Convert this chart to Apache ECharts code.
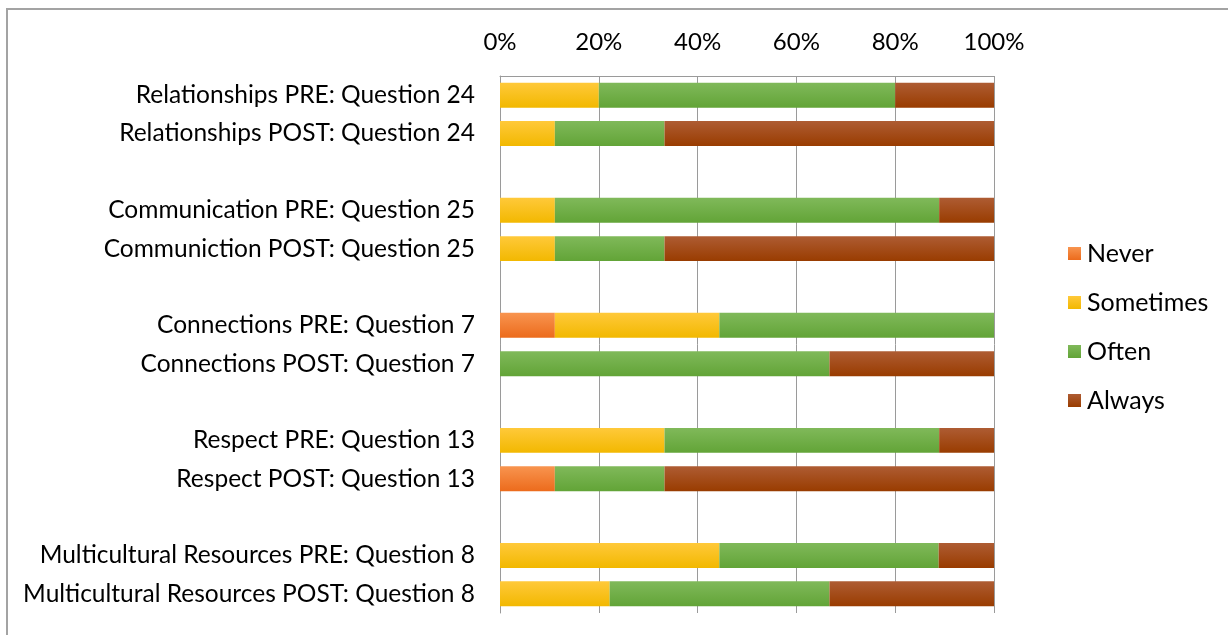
<!DOCTYPE html>
<html>
<head>
<meta charset="utf-8">
<title>Survey responses PRE / POST</title>
<script src="https://cdn.jsdelivr.net/npm/echarts@6/dist/echarts.min.js"></script>
<style>
  html, body { margin: 0; padding: 0; background: #ffffff; }
  #chart { width: 1228px; height: 635px; }
</style>
</head>
<body>
<div id="chart"></div>
<script>
// Question rows, top to bottom; empty strings are spacer rows between question groups.
const categories = [
  'Relationships PRE: Question 24',
  'Relationships POST: Question 24',
  '',
  'Communication PRE: Question 25',
  'Communiction POST: Question 25',
  '',
  'Connections PRE: Question 7',
  'Connections POST: Question 7',
  '',
  'Respect PRE: Question 13',
  'Respect POST: Question 13',
  '',
  'Multicultural Resources PRE: Question 8',
  'Multicultural Resources POST: Question 8'
];

// Share of responses (%) for each answer, one value per row.
const never     = [0,    0,    '-', 0,    0,    '-', 11.1, 0,    '-', 0,    11.1, '-', 0,    0];
const sometimes = [20,   11.1, '-', 11.1, 11.1, '-', 33.3, 0,    '-', 33.3, 0,    '-', 44.4, 22.2];
const often     = [60,   22.2, '-', 77.8, 22.2, '-', 55.6, 66.7, '-', 55.6, 22.2, '-', 44.4, 44.5];
const always    = [20,   66.7, '-', 11.1, 66.7, '-', 0,    33.3, '-', 11.1, 66.7, '-', 11.2, 33.3];

const tickValues = [0, 20, 40, 60, 80, 100];

const FONT = 'Lato, "Open Sans", sans-serif';

function shade(top, bottom) {
  return new echarts.graphic.LinearGradient(0, 0, 0, 1, [
    { offset: 0, color: top },
    { offset: 1, color: bottom }
  ]);
}

const seriesDefs = [
  { name: 'Never',     data: never,     color: '#F07A2E', grad: shade('#F8944F', '#EC6B1C') },
  { name: 'Sometimes', data: sometimes, color: '#FFC000', grad: shade('#FFC93A', '#F2B800') },
  { name: 'Often',     data: often,     color: '#70AD47', grad: shade('#80B95A', '#62A437') },
  { name: 'Always',    data: always,    color: '#A3470F', grad: shade('#AE5C33', '#993C00') }
];

const chart = echarts.init(document.getElementById('chart'), null, { renderer: 'canvas' });

chart.setOption({
  backgroundColor: '#ffffff',
  animation: false,
  color: seriesDefs.map(s => s.color),
  graphic: [{
    type: 'rect',
    silent: true,
    shape: { x: 7, y: 9, width: 1400, height: 800 },
    style: { fill: 'none', stroke: '#a3a3a3', lineWidth: 2 }
  }],
  grid: { left: 500, right: 234, top: 76, bottom: 22, containLabel: false },
  legend: {
    orient: 'vertical',
    left: 1063,
    top: 236,
    itemWidth: 13,
    itemHeight: 13,
    itemGap: 24,
    icon: 'rect',
    textStyle: { fontFamily: FONT, fontSize: 25, color: '#000', lineHeight: 24, padding: [0, 0, 0, 1] },
    data: seriesDefs.map(s => s.name)
  },
  xAxis: {
    type: 'value',
    position: 'top',
    min: 0,
    max: 100,
    interval: 20,
    axisLine: { show: true, lineStyle: { color: '#9a9a9a', width: 1 } },
    axisTick: { show: false },
    splitLine: { show: true, lineStyle: { color: '#9a9a9a', width: 1 } },
    axisLabel: {
      margin: 22,
      fontFamily: FONT,
      fontSize: 24,
      color: '#000',
      formatter: v => (tickValues.indexOf(v) >= 0 ? v + '%' : '')
    }
  },
  yAxis: {
    type: 'category',
    inverse: true,
    data: categories,
    axisLine: { show: true, lineStyle: { color: '#9a9a9a', width: 1 } },
    axisTick: { show: false },
    axisLabel: {
      margin: 25,
      fontFamily: FONT,
      fontSize: 24.5,
      color: '#000',
      interval: 0
    }
  },
  series: seriesDefs.map(s => ({
    name: s.name,
    type: 'bar',
    stack: 'total',
    barWidth: '65%',
    data: s.data,
    itemStyle: { color: s.grad },
    emphasis: { disabled: true }
  }))
});
</script>
</body>
</html>
